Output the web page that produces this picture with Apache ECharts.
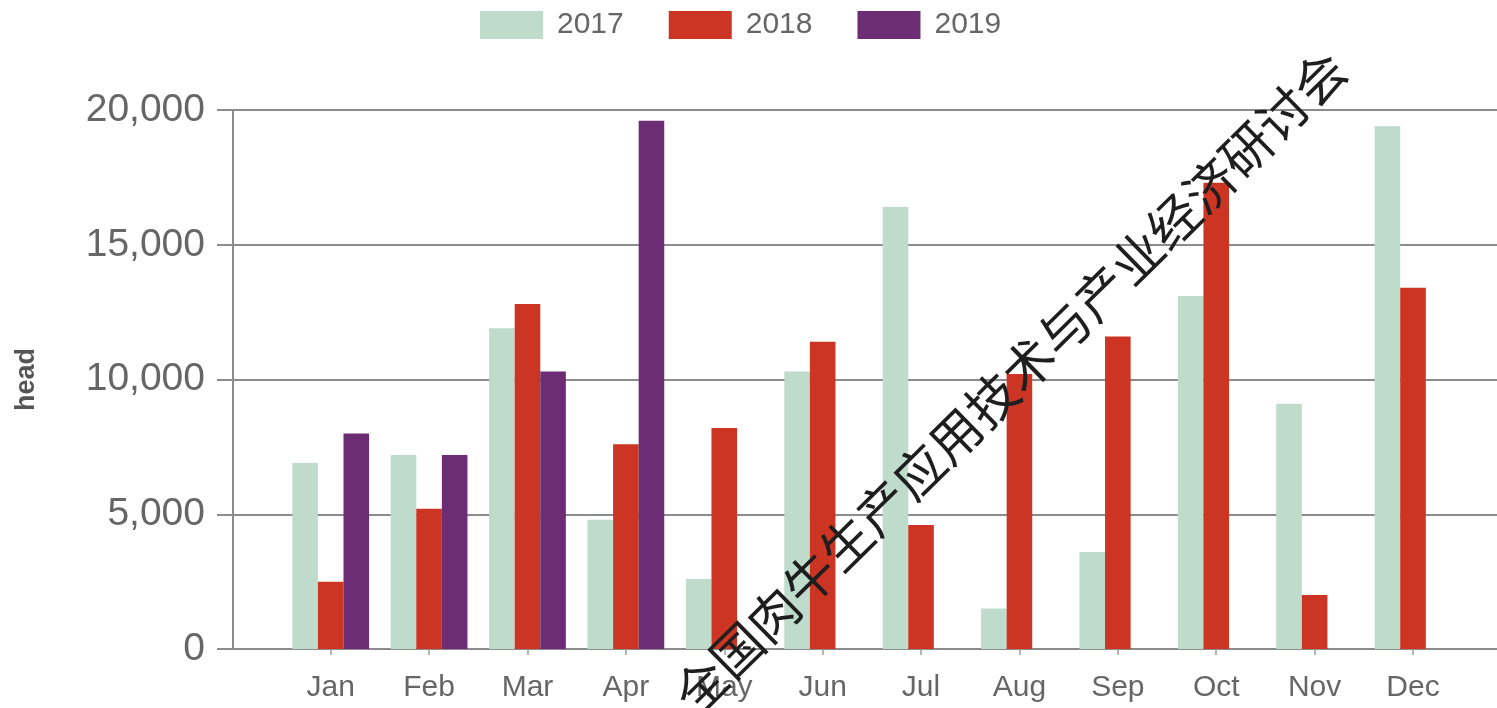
<!DOCTYPE html>
<html>
<head>
<meta charset="utf-8">
<script src="https://cdn.jsdelivr.net/npm/echarts@6/dist/echarts.min.js"></script>
<style>
html,body{margin:0;padding:0;background:#fff;}
#chart{width:1497px;height:708px;}
</style>
</head>
<body>
<div id="chart"></div>
<script>
var months = ['Jan','Feb','Mar','Apr','May','Jun','Jul','Aug','Sep','Oct','Nov','Dec'];
var seriesNames = ['2017','2018','2019'];
var values2017 = [6900, 7200, 11900, 4800, 2600, 10300, 16400, 1500, 3600, 13100, 9100, 19400];
var values2018 = [2500, 5200, 12800, 7600, 8200, 11400, 4600, 10200, 11600, 17300, 2000, 13400];
var values2019 = [8000, 7200, 10300, 19600, null, null, null, null, null, null, null, null];
var yTicks = [0, 5000, 10000, 15000, 20000];
var yAxisName = 'head';
var watermarkText = '全国肉牛生产应用技术与产业经济研讨会';

var colors = ['#BEDBCB', '#CC3523', '#6C2D75'];
var FONT = "'Liberation Sans', Arial, sans-serif";
var lineColor = '#8c8c8c';
var labelColor = '#666666';

var chart = echarts.init(document.getElementById('chart'), null, {renderer: 'canvas'});
var yMin = yTicks[0], yMax = yTicks[yTicks.length - 1], yInt = yTicks[1] - yTicks[0];

function fmt(v) { return String(v).replace(/\B(?=(\d{3})+(?!\d))/g, ','); }

var option = {
  animation: false,
  backgroundColor: '#ffffff',
  color: colors,
  textStyle: {fontFamily: FONT},
  legend: {
    data: seriesNames,
    left: 480,
    top: 10,
    padding: 0,
    itemWidth: 63,
    itemHeight: 28,
    itemGap: 45,
    icon: 'rect',
    textStyle: {fontSize: 30, color: labelColor, fontFamily: FONT, padding: [0, 0, 0, 9]}
  },
  grid: [
    {left: 281.5, right: 34.8, top: 110, bottom: 59, containLabel: false},
    {left: 233, right: 0, top: 110, bottom: 59, containLabel: false}
  ],
  xAxis: [
    {
      type: 'category', gridIndex: 0, data: months,
      axisLine: {show: false},
      axisTick: {show: true, alignWithLabel: true, length: 6, lineStyle: {color: '#999', width: 1.5}},
      axisLabel: {fontSize: 30, color: labelColor, margin: 24, fontFamily: FONT},
      splitLine: {show: false}
    },
    {
      type: 'value', gridIndex: 1, min: 0, max: 1,
      axisLine: {show: true, onZero: false, lineStyle: {color: lineColor, width: 2}},
      axisTick: {show: false}, axisLabel: {show: false}, splitLine: {show: false}
    }
  ],
  yAxis: [
    {
      type: 'value', gridIndex: 0, min: yMin, max: yMax, interval: yInt,
      axisLine: {show: false}, axisTick: {show: false}, axisLabel: {show: false}, splitLine: {show: false}
    },
    {
      type: 'value', gridIndex: 1, min: yMin, max: yMax, interval: yInt,
      name: yAxisName, nameLocation: 'middle', nameGap: 193, nameRotate: 90,
      nameTextStyle: {fontSize: 27, fontWeight: 'bold', color: '#555', fontFamily: FONT},
      axisLine: {show: true, lineStyle: {color: lineColor, width: 2}},
      axisTick: {show: true, length: 16, lineStyle: {color: lineColor, width: 2}},
      axisLabel: {fontSize: 39, color: labelColor, margin: 28, fontFamily: FONT, formatter: fmt},
      splitLine: {show: true, lineStyle: {color: lineColor, width: 2}}
    }
  ],
  series: [
    {name: seriesNames[0], type: 'bar', xAxisIndex: 0, yAxisIndex: 0, data: values2017, barGap: '0%', barCategoryGap: '22%', itemStyle: {color: colors[0]}},
    {name: seriesNames[1], type: 'bar', xAxisIndex: 0, yAxisIndex: 0, data: values2018, barGap: '0%', barCategoryGap: '22%', itemStyle: {color: colors[1]}},
    {name: seriesNames[2], type: 'bar', xAxisIndex: 0, yAxisIndex: 0, data: values2019, barGap: '0%', barCategoryGap: '22%', itemStyle: {color: colors[2]}}
  ],
  graphic: [
    {
      type: 'text', x: 1010, y: 382, rotation: 44.5 * Math.PI / 180, z: 100, silent: true,
      style: {
        text: watermarkText, fontSize: 51, fontFamily: "'Noto Sans CJK SC', sans-serif",
        fill: '#1e1e1e', align: 'center', verticalAlign: 'middle'
      }
    }
  ]
};
chart.setOption(option);
</script>
</body>
</html>
